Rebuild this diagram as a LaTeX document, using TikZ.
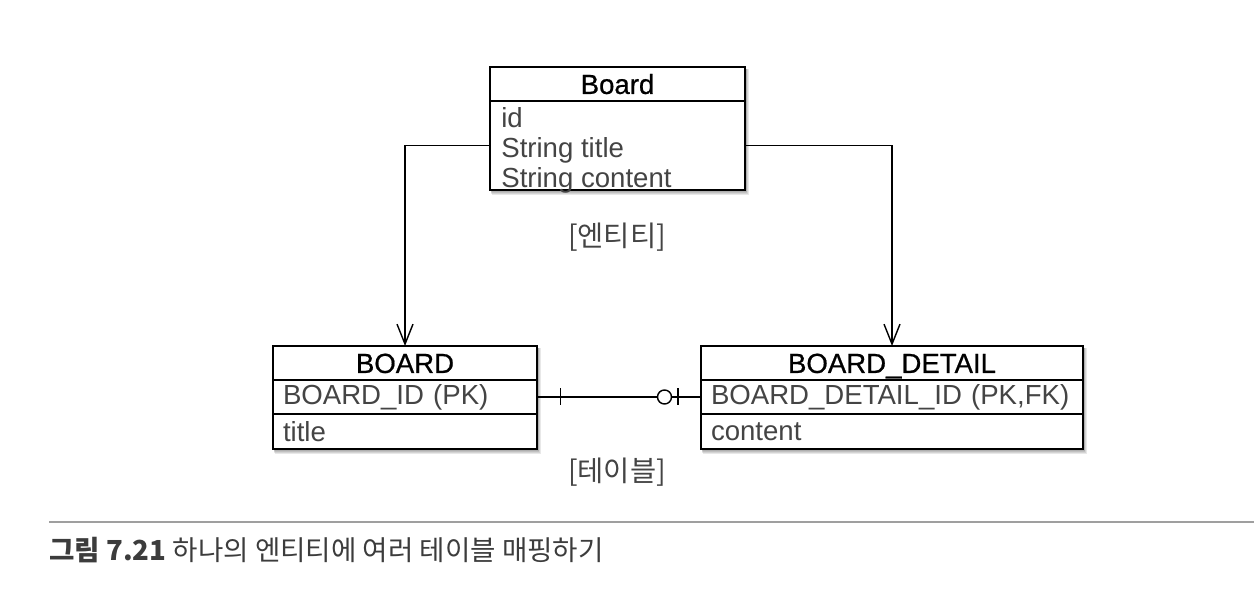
\documentclass[tikz,border=0pt]{standalone}
\usepackage{fontspec}
\setmainfont{Liberation Sans}
\newfontfamily\hdfont[FakeBold=0.7]{Liberation Sans}
\newfontfamily\kr{Noto Sans CJK KR}
\usetikzlibrary{arrows.meta,shadows,positioning}
\definecolor{attr}{HTML}{444444}
\definecolor{capt}{HTML}{3C3C3C}
\tikzset{
  cell/.style={draw=black,line width=1.1pt,fill=white,rectangle,inner xsep=0.2cm,inner ysep=0pt,
     font=\fontsize{15.7}{17.1}\selectfont,outer sep=0pt},
  headcell/.style={cell,align=center,text=black,font=\hdfont\fontsize{15.7}{17.1}\selectfont,
     text height=11.3pt,text depth=0pt},
  rowcell/.style={cell,align=left,text=attr},
  conn/.style={line width=0.8pt,draw=black},
  arr/.style={conn,-{Straight Barb[length=4mm,width=3.2mm,line width=0.8pt]}},
  lbl/.style={font=\kr\fontsize{16.2}{18}\selectfont,text=attr,inner sep=0pt},
  shade box/.style={fill=black,opacity=0.09},
}
\newcommand{\softshadow}[2]{%
  \fill[shade box] ([xshift=0.02cm,yshift=-0.04cm]#1) rectangle ([xshift=0.06cm,yshift=-0.08cm]#2);
  \fill[shade box] ([xshift=0.02cm,yshift=-0.04cm]#1) rectangle ([xshift=0.04cm,yshift=-0.06cm]#2);
  \fill[shade box] ([xshift=0.02cm,yshift=-0.04cm]#1) rectangle ([xshift=0.03cm,yshift=-0.04cm]#2);
  \fill[shade box] ([xshift=0.03cm,yshift=-0.05cm]#1) rectangle ([xshift=0.08cm,yshift=-0.11cm]#2);
}
\begin{document}
\begin{tikzpicture}
\useasboundingbox (0,0) rectangle (25.08,-12.16);
% shadows first
\softshadow{9.8,-1.34}{14.9,-3.8}
\softshadow{5.46,-6.92}{10.74,-8.98}
\softshadow{14.02,-6.92}{21.66,-8.98}
% Board entity
\node[headcell,minimum width=5.1cm,minimum height=0.68cm,text width=4.7cm] (boardH) at (12.35,-1.68) {Board};
\node[rowcell,minimum width=5.1cm,minimum height=1.78cm,anchor=north] (boardB) at (boardH.south) {};
\node[anchor=north west,inner sep=0pt,align=left,text=attr,font=\fontsize{15.7}{17.07}\selectfont] (boardT)
  at ([xshift=0.22cm,yshift=-0.12cm]boardB.north west) {id\\String title\\String content};
% BOARD table
\node[headcell,minimum width=5.28cm,minimum height=0.68cm,text width=4.88cm] (tblH) at (8.10,-7.26) {BOARD};
\node[rowcell,minimum width=5.28cm,minimum height=0.68cm,text width=4.88cm,anchor=north] (tblR1) at (tblH.south) {BOARD\_ID (PK)};
\node[rowcell,minimum width=5.28cm,minimum height=0.70cm,text width=4.88cm,anchor=north] (tblR2) at (tblR1.south) {title};
% BOARD_DETAIL table
\node[headcell,minimum width=7.64cm,minimum height=0.68cm,text width=7.24cm] (detH) at (17.84,-7.26) {BOARD\_DETAIL};
\node[rowcell,minimum width=7.64cm,minimum height=0.68cm,text width=7.24cm,anchor=north] (detR1) at (detH.south) {BOARD\_DETAIL\_ID (PK,FK)};
\node[rowcell,minimum width=7.64cm,minimum height=0.70cm,text width=7.24cm,anchor=north] (detR2) at (detR1.south) {content};
% arrows
\draw[arr] (boardB.west) -| (tblH.north);
\draw[arr] (boardB.east) -| (detH.north);
% relationship
\draw[conn] (tblR1.east) -- (tblR1.east -| detR1.west);
\coordinate (t1) at ([xshift=0.47cm]tblR1.east);
\draw[conn] ([yshift=0.17cm]t1) -- ([yshift=-0.17cm]t1);
\coordinate (t2) at ([xshift=-0.46cm]detR1.west);
\draw[conn] ([yshift=0.17cm]t2) -- ([yshift=-0.17cm]t2);
\node[circle,draw=black,line width=0.8pt,fill=white,minimum size=0.28cm,inner sep=0pt] (circ) at ([xshift=-0.73cm]detR1.west) {};
% labels
\node[lbl] (ent) at (12.34,-4.74) {[엔티티]};
\node[lbl] (tab) at (12.34,-9.44) {[테이블]};
% caption
\draw[line width=1.1pt,draw=gray!75] (0.98,-10.44) coordinate (rl) -- (25.08,-10.44) coordinate (rr);
\node[anchor=base west,inner sep=0pt,text=capt,font=\kr\fontsize{15.7}{17}\selectfont] (cap) at (0.98,-11.2)
  {\textbf{그림 7.21} 하나의 엔티티에 여러 테이블 매핑하기};
\end{tikzpicture}
\end{document}
